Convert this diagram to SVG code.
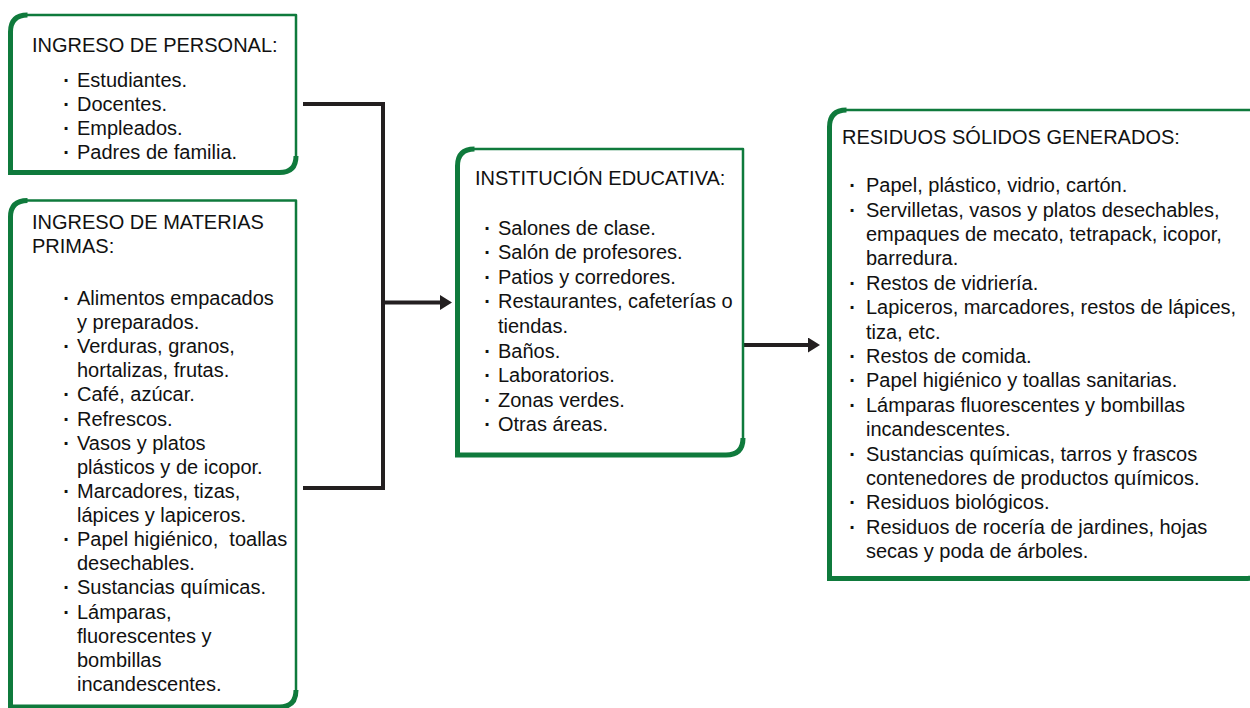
<svg xmlns="http://www.w3.org/2000/svg" width="1250" height="708" viewBox="0 0 1250 708">
<defs>
<style>
.frame{fill:#fff;stroke:#0f7a3c;stroke-width:2.5;stroke-linejoin:round}
.thick{fill:none;stroke:#0f7a3c;stroke-width:5}
.t{font-family:"Liberation Sans",Arial,sans-serif;font-size:20px;fill:#111}
.d{font-family:"Liberation Sans",Arial,sans-serif;font-size:20px;font-weight:bold;fill:#111;text-anchor:middle}
.c{fill:none;stroke:#231f20;stroke-width:4}
</style>
<marker id="ah" markerUnits="userSpaceOnUse" viewBox="0 0 12 15" markerWidth="12" markerHeight="15" refX="0" refY="7.5" orient="auto">
<path d="M0,0 L12,7.5 L0,15 Z" fill="#231f20"/>
</marker>
</defs>

<g id="connectors">
<path class="c" d="M303,104 H383 V488 H303"/>
<path class="c" d="M383,302.5 H440" marker-end="url(#ah)"/>
<path class="c" d="M743,345 H808" marker-end="url(#ah)"/>
</g>

<g id="ingreso-personal">
<path class="frame" d="M10.5,172.5 V32 Q10.5,15 27.5,15 H296 V156 Q296,172.5 279.5,172.5 Z"/>
<path class="thick" d="M27.5,15 Q10.5,15 10.5,32 V172.5 H279.5 Q296,172.5 296,156"/>
<text class="t" x="32" y="52">INGRESO DE PERSONAL:</text>
<text class="d" x="66.5" y="87">·</text><text class="t" x="77" y="87">Estudiantes.</text>
<text class="d" x="66.5" y="111">·</text><text class="t" x="77" y="111">Docentes.</text>
<text class="d" x="66.5" y="135">·</text><text class="t" x="77" y="135">Empleados.</text>
<text class="d" x="66.5" y="159">·</text><text class="t" x="77" y="159">Padres de familia.</text>
</g>

<g id="ingreso-materias">
<path class="frame" d="M10.5,707 V217 Q10.5,200.5 27.5,200.5 H296 V690 Q296,707 279.5,707 Z"/>
<path class="thick" d="M27.5,200.5 Q10.5,200.5 10.5,217 V707 H279.5 Q296,707 296,690"/>
<text class="t" x="32" y="229">INGRESO DE MATERIAS</text>
<text class="t" x="32" y="253">PRIMAS:</text>
<text class="d" x="66.5" y="305">·</text><text class="t" x="77" y="305">Alimentos empacados</text>
<text class="t" x="77" y="329">y preparados.</text>
<text class="d" x="66.5" y="353">·</text><text class="t" x="77" y="353">Verduras, granos,</text>
<text class="t" x="77" y="377">hortalizas, frutas.</text>
<text class="d" x="66.5" y="401">·</text><text class="t" x="77" y="401">Café, azúcar.</text>
<text class="d" x="66.5" y="425.5">·</text><text class="t" x="77" y="425.5">Refrescos.</text>
<text class="d" x="66.5" y="449.5">·</text><text class="t" x="77" y="449.5">Vasos y platos</text>
<text class="t" x="77" y="473.5">plásticos y de icopor.</text>
<text class="d" x="66.5" y="498">·</text><text class="t" x="77" y="498">Marcadores, tizas,</text>
<text class="t" x="77" y="522">lápices y lapiceros.</text>
<text class="d" x="66.5" y="546">·</text><text class="t" x="77" y="546" style="white-space:pre">Papel higiénico,  toallas</text>
<text class="t" x="77" y="570">desechables.</text>
<text class="d" x="66.5" y="594">·</text><text class="t" x="77" y="594">Sustancias químicas.</text>
<text class="d" x="66.5" y="618.5">·</text><text class="t" x="77" y="618.5">Lámparas,</text>
<text class="t" x="77" y="642.5">fluorescentes y</text>
<text class="t" x="77" y="666.5">bombillas</text>
<text class="t" x="77" y="691">incandescentes.</text>
</g>

<g id="institucion">
<path class="frame" d="M457.5,455 V166 Q457.5,149 474.5,149 H743 V438 Q743,455 726,455 Z"/>
<path class="thick" d="M474.5,149 Q457.5,149 457.5,166 V455 H726 Q743,455 743,438"/>
<text class="t" x="475" y="185">INSTITUCIÓN EDUCATIVA:</text>
<text class="d" x="487.5" y="235">·</text><text class="t" x="498" y="235">Salones de clase.</text>
<text class="d" x="487.5" y="259">·</text><text class="t" x="498" y="259">Salón de profesores.</text>
<text class="d" x="487.5" y="283.5">·</text><text class="t" x="498" y="283.5">Patios y corredores.</text>
<text class="d" x="487.5" y="308">·</text><text class="t" x="498" y="308">Restaurantes, cafeterías o</text>
<text class="t" x="498" y="332.5">tiendas.</text>
<text class="d" x="487.5" y="357.5">·</text><text class="t" x="498" y="357.5">Baños.</text>
<text class="d" x="487.5" y="382">·</text><text class="t" x="498" y="382">Laboratorios.</text>
<text class="d" x="487.5" y="406.5">·</text><text class="t" x="498" y="406.5">Zonas verdes.</text>
<text class="d" x="487.5" y="431">·</text><text class="t" x="498" y="431">Otras áreas.</text>
</g>

<g id="residuos">
<path class="frame" d="M829.5,578.5 V127 Q829.5,110 846.5,110 H1262 V561.5 Q1262,578.5 1245,578.5 Z"/>
<path class="thick" d="M846.5,110 Q829.5,110 829.5,127 V578.5 H1245 Q1262,578.5 1262,561.5"/>
<text class="t" x="842" y="144">RESIDUOS SÓLIDOS GENERADOS:</text>
<text class="d" x="852.5" y="192">·</text><text class="t" x="866" y="192">Papel, plástico, vidrio, cartón.</text>
<text class="d" x="852.5" y="216.5">·</text><text class="t" x="866" y="216.5">Servilletas, vasos y platos desechables,</text>
<text class="t" x="866" y="241">empaques de mecato, tetrapack, icopor,</text>
<text class="t" x="866" y="265">barredura.</text>
<text class="d" x="852.5" y="289.5">·</text><text class="t" x="866" y="289.5">Restos de vidriería.</text>
<text class="d" x="852.5" y="314">·</text><text class="t" x="866" y="314">Lapiceros, marcadores, restos de lápices,</text>
<text class="t" x="866" y="338.5">tiza, etc.</text>
<text class="d" x="852.5" y="363">·</text><text class="t" x="866" y="363">Restos de comida.</text>
<text class="d" x="852.5" y="387">·</text><text class="t" x="866" y="387">Papel higiénico y toallas sanitarias.</text>
<text class="d" x="852.5" y="411.5">·</text><text class="t" x="866" y="411.5">Lámparas fluorescentes y bombillas</text>
<text class="t" x="866" y="436">incandescentes.</text>
<text class="d" x="852.5" y="460.5">·</text><text class="t" x="866" y="460.5">Sustancias químicas, tarros y frascos</text>
<text class="t" x="866" y="485">contenedores de productos químicos.</text>
<text class="d" x="852.5" y="509">·</text><text class="t" x="866" y="509">Residuos biológicos.</text>
<text class="d" x="852.5" y="533.5">·</text><text class="t" x="866" y="533.5">Residuos de rocería de jardines, hojas</text>
<text class="t" x="866" y="558">secas y poda de árboles.</text>
</g>
</svg>
